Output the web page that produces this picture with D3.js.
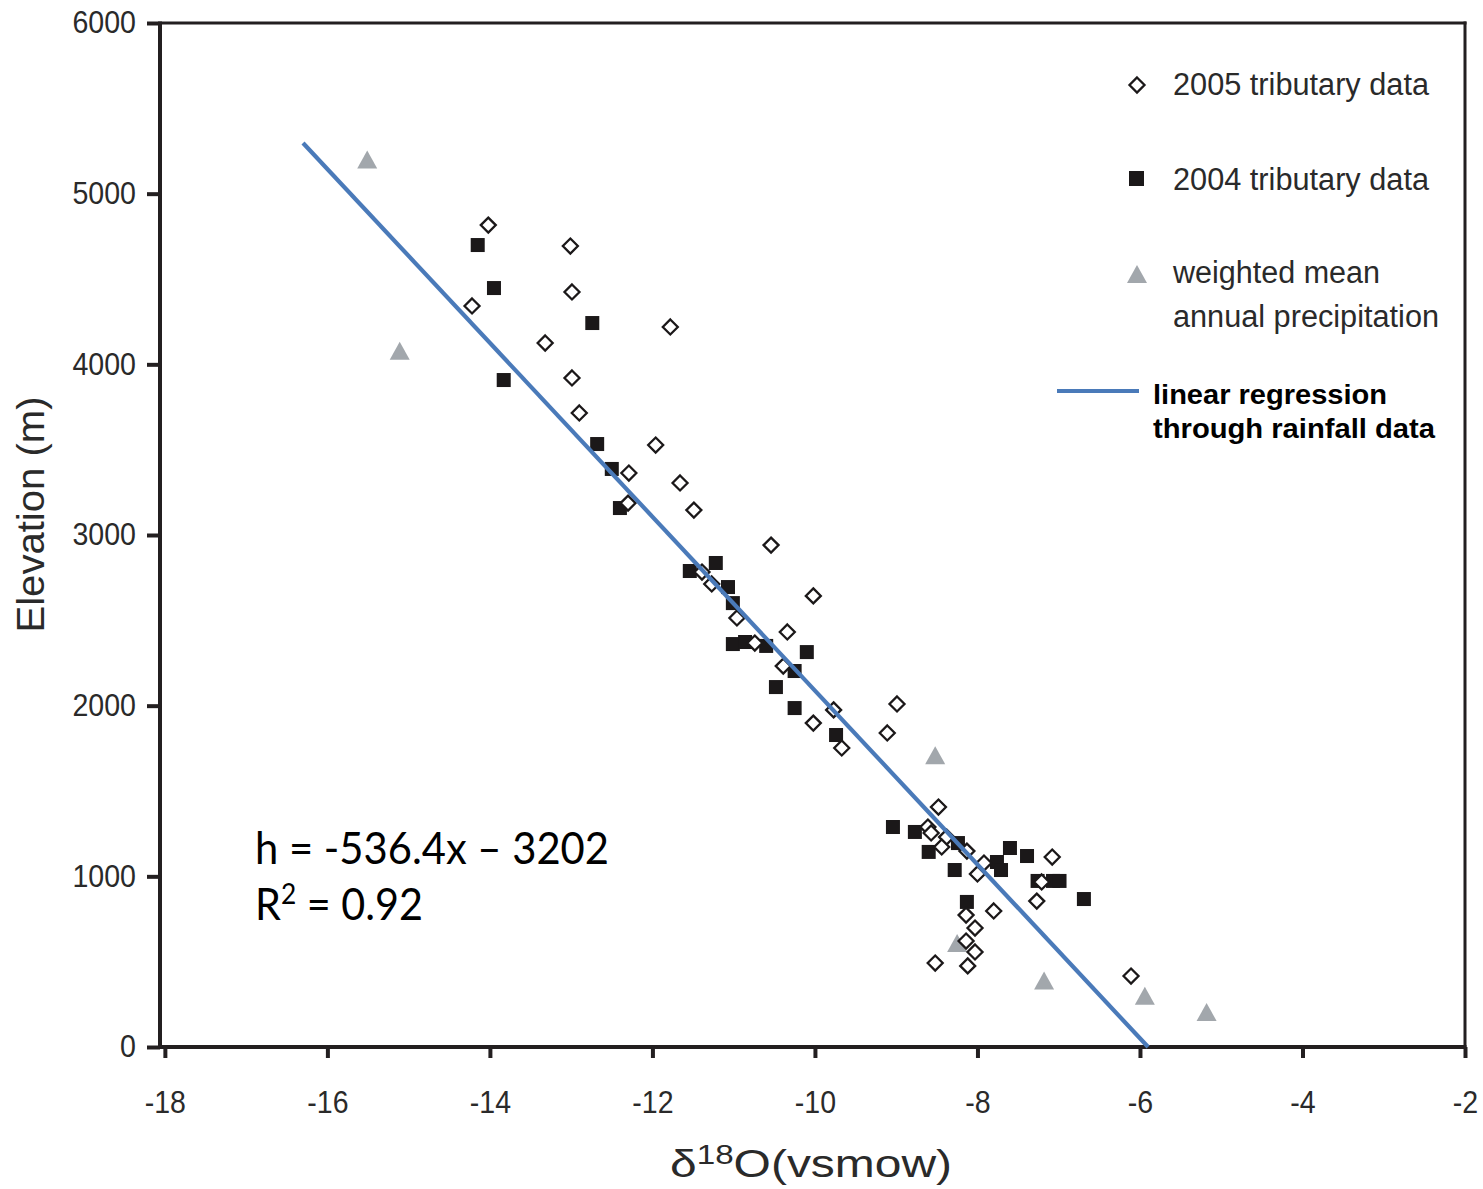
<!DOCTYPE html>
<html>
<head>
<meta charset="utf-8">
<script src="https://cdn.jsdelivr.net/npm/d3@7"></script>
<style>
  html, body { margin: 0; padding: 0; background: #ffffff; }
  svg { display: block; }
</style>
</head>
<body>
<script>
// ---------- data ----------
const xTicks = [-18, -16, -14, -12, -10, -8, -6, -4, -2];
const yTicks = [0, 1000, 2000, 3000, 4000, 5000, 6000];

// 2005 tributary data (open diamonds): [d18O, elevation]
const trib2005 = [
  [-14.02, 4816], [-14.22, 4342], [-13.01, 4693], [-12.99, 4424], [-13.32, 4125],
  [-12.99, 3920], [-12.90, 3715], [-11.78, 4219], [-11.96, 3527], [-12.29, 3363],
  [-12.30, 3187], [-11.66, 3305], [-11.49, 3146], [-10.54, 2941], [-10.02, 2643],
  [-11.39, 2783], [-11.27, 2713], [-10.96, 2514], [-10.74, 2367], [-10.34, 2432],
  [-10.39, 2232], [-10.02, 1898], [-9.77, 1975], [-9.67, 1752], [-8.99, 2010],
  [-9.11, 1840], [-8.48, 1406], [-8.61, 1289], [-8.57, 1254], [-8.38, 1230],
  [-8.44, 1172], [-8.13, 1148], [-7.92, 1078], [-8.00, 1014], [-7.08, 1113],
  [-7.21, 967], [-7.27, 855], [-8.14, 773], [-7.80, 797], [-8.03, 697],
  [-8.14, 621], [-8.03, 557], [-8.52, 492], [-8.12, 475], [-6.11, 416]
];

// 2004 tributary data (filled squares)
const trib2004 = [
  [-14.15, 4699], [-13.95, 4447], [-12.74, 4242], [-13.83, 3908], [-12.68, 3533],
  [-12.50, 3387], [-12.40, 3158], [-11.54, 2789], [-11.22, 2836], [-11.07, 2695],
  [-11.01, 2601], [-11.01, 2361], [-10.86, 2373], [-10.60, 2350], [-10.10, 2314],
  [-10.25, 2203], [-10.48, 2109], [-10.25, 1986], [-9.74, 1828], [-9.04, 1289],
  [-8.77, 1260], [-8.60, 1143], [-8.24, 1195], [-8.28, 1037], [-7.60, 1166],
  [-7.76, 1084], [-7.71, 1037], [-7.39, 1119], [-7.26, 973], [-7.07, 973],
  [-6.99, 973], [-6.69, 867], [-8.13, 850]
];

// weighted mean annual precipitation (grey triangles)
const precip = [
  [-15.51, 5200], [-15.11, 4080], [-8.52, 1710], [-8.25, 610],
  [-7.18, 390], [-5.94, 300], [-5.18, 205]
];

// regression line through rainfall data (as drawn)
const regLine = [[-16.30, 5297], [-5.90, 0]];

const legendLabels = ["2005 tributary data", "2004 tributary data", "weighted mean", "annual precipitation"];
const legendLineLabels = ["linear regression", "through rainfall data"];
const equationText = "h = -536.4x \u2013 3202";
const r2Text = " = 0.92";

// ---------- layout ----------
const W = 1483, H = 1189;
const L = 160, R = 1465, T = 23, B = 1047;
const ink = "#231f20";
const blue = "#4a7ab9";
const grey = "#a2a7ac";
const sansFont = "'Liberation Sans', Arial, Helvetica, sans-serif";

const svg = d3.select("body").append("svg").attr("width", W).attr("height", H);
svg.append("rect").attr("width", W).attr("height", H).attr("fill", "#fff");

const x = d3.scaleLinear().domain([-18.06, -2]).range([L, R]);
const y = d3.scaleLinear().domain([0, 6000]).range([B, T]);

function squeeze(sel, ratio) {
  sel.each(function () {
    const w = this.getComputedTextLength();
    this.setAttribute("textLength", (w * ratio).toFixed(1));
    this.setAttribute("lengthAdjust", "spacingAndGlyphs");
  });
}

// axes
const gy = svg.append("g").attr("transform", `translate(${L},0)`)
  .call(d3.axisLeft(y).tickValues(yTicks).tickSize(13).tickPadding(11).tickFormat(d => String(d)));
gy.select(".domain").remove();
gy.selectAll(".tick line").attr("stroke", ink).attr("stroke-width", 4);
gy.selectAll(".tick text").attr("fill", "#2a2a2a").style("font-family", sansFont).style("font-size", "31px");
squeeze(gy.selectAll(".tick text"), 0.92);

const gx = svg.append("g").attr("transform", `translate(0,${B})`)
  .call(d3.axisBottom(x).tickValues(xTicks).tickSize(11).tickPadding(33).tickFormat(d => String(d)));
gx.select(".domain").remove();
gx.selectAll(".tick line").attr("stroke", ink).attr("stroke-width", 4);
gx.selectAll(".tick text").attr("fill", "#2a2a2a").style("font-family", sansFont).style("font-size", "31px");
squeeze(gx.selectAll(".tick text"), 0.92);

// frame
svg.append("line").attr("x1", L).attr("x2", R + 1.5).attr("y1", T).attr("y2", T).attr("stroke", ink).attr("stroke-width", 3);
svg.append("line").attr("x1", R).attr("x2", R).attr("y1", T - 1.5).attr("y2", B).attr("stroke", ink).attr("stroke-width", 3);
svg.append("line").attr("x1", L).attr("x2", L).attr("y1", T - 1.5).attr("y2", B + 2).attr("stroke", ink).attr("stroke-width", 4);
svg.append("line").attr("x1", L - 2).attr("x2", R + 1.5).attr("y1", B).attr("y2", B).attr("stroke", ink).attr("stroke-width", 4);

// marker shapes
const diamondPath = s => `M0,${-s}L${s},0L0,${s}L${-s},0Z`;
const trianglePath = (w, h) => `M0,${-h / 2}L${w / 2},${h / 2}L${-w / 2},${h / 2}Z`;

const marks = svg.append("g");
marks.selectAll("path.tri").data(precip).join("path").attr("class", "tri")
  .attr("transform", d => `translate(${x(d[0])},${y(d[1])})`)
  .attr("d", trianglePath(20, 18)).attr("fill", grey);

marks.selectAll("rect.sq").data(trib2004).join("rect").attr("class", "sq")
  .attr("x", d => x(d[0]) - 7).attr("y", d => y(d[1]) - 7)
  .attr("width", 14).attr("height", 14).attr("fill", "#1b1819");

marks.selectAll("path.dia").data(trib2005).join("path").attr("class", "dia")
  .attr("transform", d => `translate(${x(d[0])},${y(d[1])})`)
  .attr("d", diamondPath(7.5)).attr("fill", "#fff").attr("stroke", "#1b1819").attr("stroke-width", 2.3);

// regression line
svg.append("path").datum(regLine)
  .attr("d", d3.line().x(d => x(d[0])).y(d => y(d[1])))
  .attr("stroke", blue).attr("stroke-width", 4.2).attr("fill", "none");

// axis titles
const yTitle = svg.append("text")
  .attr("transform", `translate(44,${(395 + 630) / 2 + 2}) rotate(-90)`)
  .attr("text-anchor", "middle").attr("fill", "#2a2a2a")
  .style("font-family", sansFont).style("font-size", "38px")
  .text("Elevation (m)");
yTitle.attr("textLength", 236).attr("lengthAdjust", "spacingAndGlyphs");

const xTitle = svg.append("text")
  .attr("x", 670).attr("y", 1177).attr("fill", "#2a2a2a")
  .style("font-family", sansFont).style("font-size", "39px");
xTitle.append("tspan").text("\u03B4");
xTitle.append("tspan").attr("dy", -13).style("font-size", "27px").text("18");
xTitle.append("tspan").attr("dy", 13).text("O(vsmow)");
xTitle.attr("textLength", 282).attr("lengthAdjust", "spacingAndGlyphs");

// legend
const legG = svg.append("g").attr("fill", "#2a2a2a").style("font-family", sansFont);
legG.append("path").attr("transform", "translate(1137,85)").attr("d", diamondPath(7.5))
  .attr("fill", "#fff").attr("stroke", "#1b1819").attr("stroke-width", 2.3);
legG.append("rect").attr("x", 1129).attr("y", 171).attr("width", 15).attr("height", 15).attr("fill", "#1b1819");
legG.append("path").attr("transform", "translate(1137,274)").attr("d", trianglePath(20, 18)).attr("fill", grey);

const legText = legG.selectAll("text.lg").data(legendLabels).join("text").attr("class", "lg")
  .attr("x", 1173).attr("y", (d, i) => [95, 190, 283, 327][i])
  .style("font-size", "31px").text(d => d);
legText.each(function (d, i) {
  const target = [256, 256, 207, 266][i];
  this.setAttribute("textLength", target);
  this.setAttribute("lengthAdjust", "spacingAndGlyphs");
});

legG.append("line").attr("x1", 1057).attr("x2", 1139).attr("y1", 391).attr("y2", 391)
  .attr("stroke", blue).attr("stroke-width", 4);
legG.selectAll("text.lb").data(legendLineLabels).join("text").attr("class", "lb")
  .attr("x", 1153).attr("y", (d, i) => [404, 438][i])
  .attr("fill", "#000").style("font-size", "28px").style("font-weight", "bold").text(d => d)
  .each(function (d, i) {
    this.setAttribute("textLength", [234, 282][i]);
    this.setAttribute("lengthAdjust", "spacingAndGlyphs");
  });

// equation annotation
const eqFont = "Lato, 'Open Sans', sans-serif";
svg.append("text").attr("x", 255).attr("y", 864).attr("fill", "#000")
  .style("font-family", eqFont).style("font-size", "44px")
  .attr("textLength", 354).attr("lengthAdjust", "spacingAndGlyphs")
  .text(equationText);
const r2 = svg.append("text").attr("x", 255).attr("y", 920).attr("fill", "#000")
  .style("font-family", eqFont).style("font-size", "44px");
r2.append("tspan").text("R");
r2.append("tspan").attr("dy", -16).style("font-size", "28px").text("2");
r2.append("tspan").attr("dy", 16).text(r2Text);
r2.attr("textLength", 168).attr("lengthAdjust", "spacingAndGlyphs");
</script>
</body>
</html>
